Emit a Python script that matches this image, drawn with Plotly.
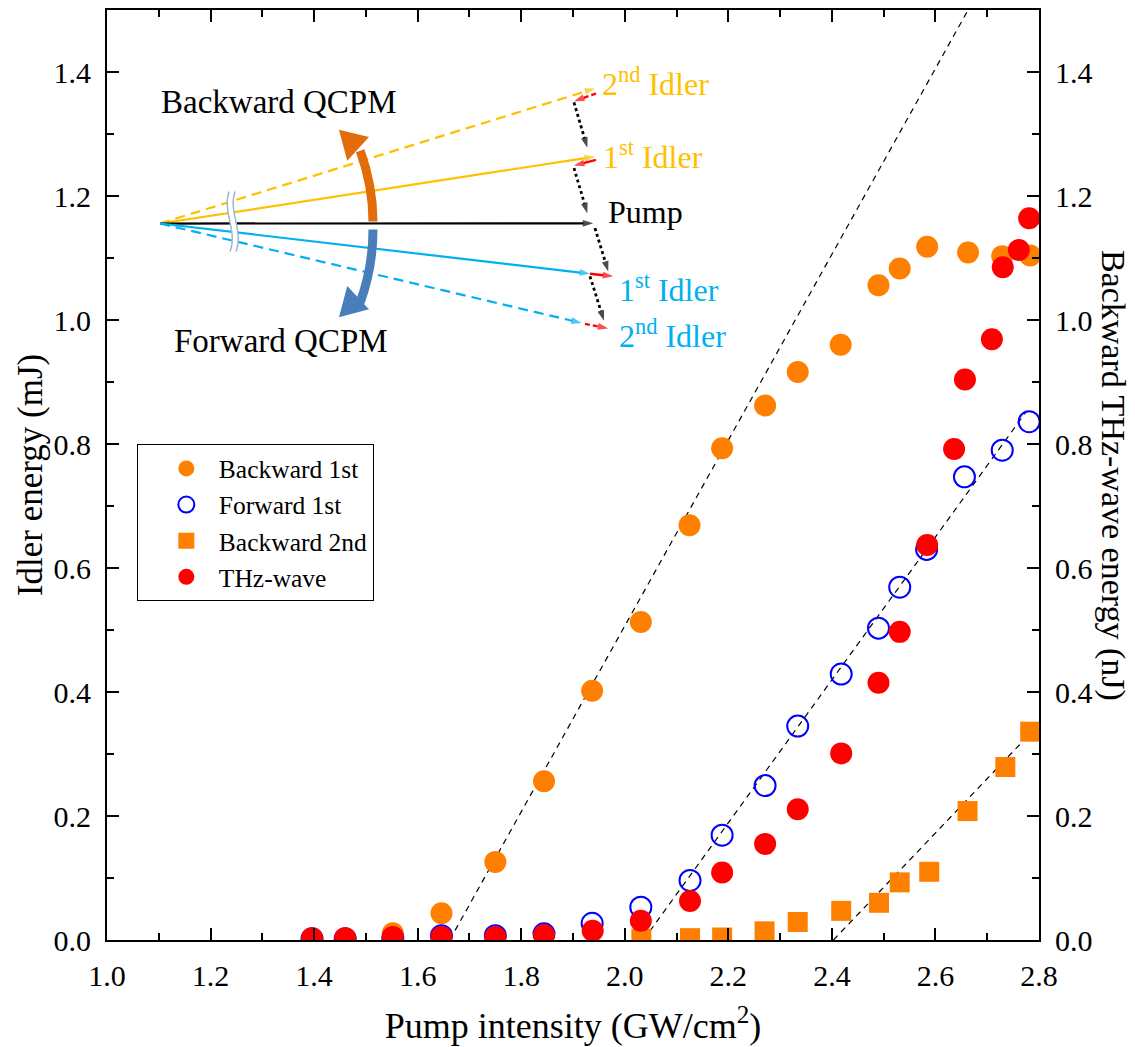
import plotly.graph_objects as go

# ---------------- data ----------------
b1_x = [1.396, 1.460, 1.552, 1.646, 1.750, 1.844, 1.937, 2.031, 2.125, 2.188, 2.271,
        2.334, 2.417, 2.490, 2.531, 2.584, 2.663, 2.729, 2.783]
b1_y = [0.002, 0.002, 0.011, 0.043, 0.126, 0.256, 0.402, 0.513, 0.669, 0.793, 0.862,
        0.916, 0.960, 1.056, 1.083, 1.118, 1.109, 1.103, 1.104]

f1_x = [1.396, 1.460, 1.552, 1.646, 1.750, 1.844, 1.937, 2.031, 2.126, 2.188, 2.271,
        2.334, 2.418, 2.490, 2.531, 2.583, 2.656, 2.729, 2.781]
f1_y = [0.002, 0.002, 0.003, 0.007, 0.007, 0.010, 0.027, 0.053, 0.096, 0.169, 0.249,
        0.345, 0.429, 0.503, 0.569, 0.630, 0.747, 0.790, 0.836]

b2_x = [2.032, 2.126, 2.188, 2.270, 2.334, 2.418, 2.491, 2.531, 2.588, 2.662, 2.735, 2.783]
b2_y = [0.002, 0.003, 0.004, 0.014, 0.029, 0.047, 0.060, 0.093, 0.110, 0.208, 0.279, 0.336]

thz_x = [1.396, 1.460, 1.552, 1.646, 1.750, 1.844, 1.938, 2.031, 2.126, 2.188, 2.271,
         2.334, 2.418, 2.490, 2.531, 2.584, 2.636, 2.657, 2.709, 2.730, 2.761, 2.781]
thz_y = [0.003, 0.003, 0.005, 0.005, 0.005, 0.008, 0.015, 0.031, 0.063, 0.109, 0.155,
         0.211, 0.301, 0.415, 0.497, 0.637, 0.792, 0.904, 0.969, 1.085, 1.113, 1.164]

# linear threshold fits (dashed guides): [x_start, x_end], [y_start, y_end]
fit_b1 = ([1.662, 2.663], [0.0, 1.5])
fit_f1 = ([2.036, 2.776], [0.0, 0.853])
fit_b2 = ([2.403, 2.783], [0.0, 0.333])

x_ticks = [1.0, 1.2, 1.4, 1.6, 1.8, 2.0, 2.2, 2.4, 2.6, 2.8]
y_ticks = [0.0, 0.2, 0.4, 0.6, 0.8, 1.0, 1.2, 1.4]

# ---------------- inset diagram (data coordinates) ----------------
origin = (1.1024, 1.1556)
beam_tips = {
    "pump": (1.939, 1.156),
    "b2": (1.9424, 1.3734),
    "b1": (1.9424, 1.2635),
    "f1": (1.9328, 1.0747),
    "f2": (1.9167, 0.9952),
}
red_arrows = [  # tail, tip, dash
    ((1.9444, 1.3653), (1.9019, 1.3530), "dash"),
    ((1.9444, 1.2582), (1.9019, 1.2490), "solid"),
    ((1.9328, 1.0747), (1.9778, 1.0704), "solid"),
    ((1.9231, 0.9938), (1.9681, 0.9863), "dash"),
]
dot_arrows = [
    ((1.9019, 1.3509), (1.9276, 1.2779)),
    ((1.9019, 1.2451), (1.9276, 1.1722)),
    ((1.9424, 1.1481), (1.9681, 1.0784)),
    ((1.9328, 1.0704), (1.9598, 0.9989)),
]

SERIF = "Times New Roman, Liberation Serif, serif"
ORANGE = "#FF8000"
RED = "#FF0000"
BLUE = "#0000FF"
YEL = "#FFC000"
CYAN = "#00B0F0"

fig = go.Figure()

# dashed fit lines
for fx, fy in (fit_b1, fit_f1, fit_b2):
    fig.add_trace(go.Scatter(x=fx, y=fy, mode="lines", showlegend=False, hoverinfo="skip",
                             line=dict(color="black", width=1.2, dash="6px,5px")))

# data series
fig.add_trace(go.Scatter(x=b1_x, y=b1_y, mode="markers", name="Backward 1st",
                         marker=dict(symbol="circle", size=22, color=ORANGE, line=dict(width=0))))
fig.add_trace(go.Scatter(x=f1_x, y=f1_y, mode="markers", name="Forward 1st",
                         marker=dict(symbol="circle-open", size=21, color=BLUE, line=dict(width=2, color=BLUE))))
fig.add_trace(go.Scatter(x=b2_x, y=b2_y, mode="markers", name="Backward 2nd",
                         marker=dict(symbol="square", size=20, color=ORANGE, line=dict(width=0))))
fig.add_trace(go.Scatter(x=thz_x, y=thz_y, mode="markers", name="THz-wave", yaxis="y2",
                         marker=dict(symbol="circle", size=22, color=RED, line=dict(width=0))))


def arrow(tail, tip, color, width, dash="solid", head=11):
    fig.add_trace(go.Scatter(
        x=[tail[0], tip[0]], y=[tail[1], tip[1]], mode="lines+markers",
        line=dict(color=color, width=width, dash=dash),
        marker=dict(symbol="arrow", size=[0, head], angleref="previous", color=color,
                    line=dict(width=0)),
        showlegend=False, hoverinfo="skip"))


arrow(origin, beam_tips["b2"], YEL, 2.2, "10px,6px")
arrow(origin, beam_tips["b1"], YEL, 2.2)
arrow(origin, beam_tips["pump"], "black", 2.2)
arrow(origin, beam_tips["f1"], CYAN, 2.2)
arrow(origin, beam_tips["f2"], CYAN, 2.2, "10px,6px")
for tail, tip, d in red_arrows:
    arrow(tail, tip, RED, 2.4, "5px,3px" if d == "dash" else "solid", 11)
for tail, tip in dot_arrows:
    arrow(tail, tip, "black", 2.8, "dot", 11)

shapes = []
# curved QCPM arrows
ARC_OR = "#E36C0A"
ARC_BL = "#4A7EBB"
shapes.append(dict(type="path", xref="x", yref="y", path="M 1.5137,1.1588 Q 1.5137,1.2164 1.4890,1.2731",
                   line=dict(color=ARC_OR, width=9)))
shapes.append(dict(type="path", xref="x", yref="y", path="M 1.4480,1.3070 L 1.5060,1.2950 L 1.4640,1.2570 Z",
                   fillcolor=ARC_OR, line=dict(width=0)))
shapes.append(dict(type="path", xref="x", yref="y", path="M 1.5137,1.1459 Q 1.5137,1.0854 1.4890,1.0284",
                   line=dict(color=ARC_BL, width=9)))
shapes.append(dict(type="path", xref="x", yref="y", path="M 1.4480,1.0045 L 1.5060,1.0172 L 1.4640,1.0550 Z",
                   fillcolor=ARC_BL, line=dict(width=0)))
# axis-break mark on the beams
shapes.append(dict(type="path", xref="x", yref="y",
                   path="M 1.2356,1.2071 C 1.2221,1.1749 1.2530,1.1427 1.2375,1.1105 "
                        "L 1.2491,1.1105 C 1.2646,1.1427 1.2337,1.1749 1.2472,1.2071 Z",
                   fillcolor="white", line=dict(width=0)))
shapes.append(dict(type="path", xref="x", yref="y",
                   path="M 1.2356,1.2071 C 1.2221,1.1749 1.2530,1.1427 1.2375,1.1105",
                   line=dict(color="#9FB6D6", width=1.5)))
shapes.append(dict(type="path", xref="x", yref="y",
                   path="M 1.2472,1.2071 C 1.2337,1.1749 1.2646,1.1427 1.2491,1.1105",
                   line=dict(color="#9FB6D6", width=1.5)))

annotations = []


def label(x, y, text, color, size=32):
    annotations.append(dict(x=x, y=y, xref="x", yref="y", text=text, showarrow=False,
                            xanchor="left", yanchor="middle",
                            font=dict(family=SERIF, size=size, color=color)))


label(1.9531, 1.3842, "2<sup>nd</sup> Idler", YEL)
label(1.9550, 1.2667, "1<sup>st</sup> Idler", YEL)
label(1.9637, 1.1749, "Pump", "black")
label(1.9850, 1.0517, "1<sup>st</sup> Idler", CYAN)
label(1.9843, 0.9770, "2<sup>nd</sup> Idler", CYAN)
label(1.1000, 1.3520, "Backward QCPM", "black", 33)
label(1.1260, 0.9657, "Forward QCPM", "black", 33)

# right axis title (reads top to bottom)
annotations.append(dict(x=1.0795, y=0.5, xref="paper", yref="paper", text="Backward THz-wave energy (nJ)",
                        textangle=90, showarrow=False, xanchor="center", yanchor="middle",
                        font=dict(family=SERIF, size=34, color="black")))

axis_common = dict(showline=True, linecolor="black", linewidth=2, ticks="inside", ticklen=12,
                   tickwidth=1.5, tickcolor="black", showgrid=False, zeroline=False,
                   tickfont=dict(family=SERIF, size=30, color="black"))

fig.update_layout(
    width=1135, height=1047, autosize=False,
    margin=dict(l=107, r=96, t=8, b=107),
    paper_bgcolor="white", plot_bgcolor="white",
    font=dict(family=SERIF, color="black"),
    xaxis=dict(range=[1.0, 2.8], tickvals=x_ticks, ticktext=[f"{v:.1f}" for v in x_ticks],
               mirror="ticks", ticklabelstandoff=8,
               minor=dict(ticks="inside", ticklen=7, dtick=0.1, tickwidth=1.5, tickcolor="black"),
               title=dict(text="Pump intensity (GW/cm<sup>2</sup>)", font=dict(family=SERIF, size=36),
                          standoff=22),
               **axis_common),
    yaxis=dict(range=[0, 1.5], tickvals=y_ticks, ticktext=[f"{v:.1f}" for v in y_ticks],
               ticklabelstandoff=8,
               minor=dict(ticks="inside", ticklen=7, dtick=0.1, tickwidth=1.5, tickcolor="black"),
               title=dict(text="Idler energy (mJ)", font=dict(family=SERIF, size=35), standoff=0),
               **axis_common),
    yaxis2=dict(range=[0, 1.5], overlaying="y", side="right", tickvals=y_ticks,
                ticktext=[f"{v:.1f}" for v in y_ticks], ticklabelstandoff=8,
                minor=dict(ticks="inside", ticklen=7, dtick=0.1, tickwidth=1.5, tickcolor="black"),
                **axis_common),
    legend=dict(x=0.032, y=0.533, xanchor="left", yanchor="top", bgcolor="white",
                bordercolor="black", borderwidth=1, font=dict(family=SERIF, size=25.5, color="black"),
                itemsizing="trace", indentation=16, itemwidth=55, tracegroupgap=0),
    shapes=shapes, annotations=annotations,
    showlegend=True,
)

fig.write_html("out.html")
